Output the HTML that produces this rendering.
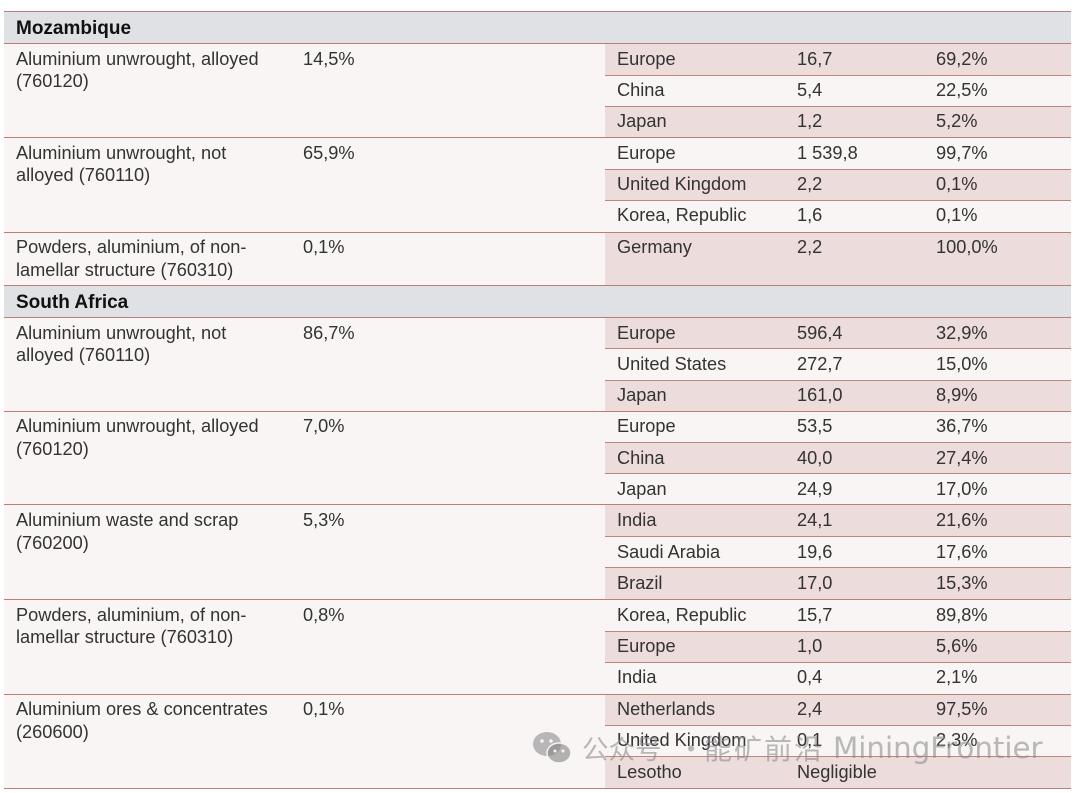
<!DOCTYPE html>
<html><head><meta charset="utf-8">
<style>
*{margin:0;padding:0;box-sizing:border-box}
html,body{width:1080px;height:793px;background:#fff;overflow:hidden}
body{position:relative;font-family:"Liberation Sans",Arial,sans-serif}
.bg{position:absolute;left:4px;width:1067px;background:#f9f5f4}
.hd{position:absolute;left:4px;width:1067px;background:#e0e1e4}
.sh{position:absolute;left:605px;width:466px;background:#ecdcdb}
.lf{position:absolute;left:4px;width:1067px;height:1px;background:#bb7d75}
.lr{position:absolute;left:605px;width:466px;height:1px;background:#c0847c}
.t{position:absolute;font-size:18.2px;line-height:22.5px;color:#333;white-space:nowrap;margin-top:-2px}
.h{position:absolute;left:16px;font-size:19px;font-weight:bold;color:#111;line-height:22px;white-space:nowrap}
.wm{position:absolute;top:729px;font-family:"Noto Sans CJK SC","DejaVu Sans",sans-serif;font-size:28px;line-height:38px;color:rgba(140,140,140,0.6);white-space:nowrap}
.wl{position:absolute;top:729px;font-family:"DejaVu Sans",sans-serif;font-size:29.3px;line-height:38px;color:rgba(140,140,140,0.6);white-space:nowrap}
</style></head><body>

<!-- backgrounds -->
<div class="hd" style="top:12px;height:31px"></div>
<div class="bg" style="top:43px;height:242px"></div>
<div class="hd" style="top:285px;height:32px"></div>
<div class="bg" style="top:317px;height:471px"></div>

<!-- shaded right rows -->
<div class="sh" style="top:43px;height:32px"></div>
<div class="sh" style="top:106px;height:31px"></div>
<div class="sh" style="top:169px;height:31px"></div>
<div class="sh" style="top:232px;height:53px"></div>
<div class="sh" style="top:317px;height:31px"></div>
<div class="sh" style="top:380px;height:31px"></div>
<div class="sh" style="top:442px;height:31px"></div>
<div class="sh" style="top:504px;height:32px"></div>
<div class="sh" style="top:567px;height:32px"></div>
<div class="sh" style="top:631px;height:31px"></div>
<div class="sh" style="top:694px;height:31px"></div>
<div class="sh" style="top:756px;height:32px"></div>

<!-- full lines -->
<div class="lf" style="top:11px"></div>
<div class="lf" style="top:43px"></div>
<div class="lf" style="top:137px"></div>
<div class="lf" style="top:232px"></div>
<div class="lf" style="top:285px"></div>
<div class="lf" style="top:317px"></div>
<div class="lf" style="top:411px"></div>
<div class="lf" style="top:504px"></div>
<div class="lf" style="top:599px"></div>
<div class="lf" style="top:694px"></div>
<div class="lf" style="top:788px"></div>

<!-- right-only lines -->
<div class="lr" style="top:75px"></div>
<div class="lr" style="top:106px"></div>
<div class="lr" style="top:169px"></div>
<div class="lr" style="top:200px"></div>
<div class="lr" style="top:348px"></div>
<div class="lr" style="top:380px"></div>
<div class="lr" style="top:442px"></div>
<div class="lr" style="top:473px"></div>
<div class="lr" style="top:536px"></div>
<div class="lr" style="top:567px"></div>
<div class="lr" style="top:631px"></div>
<div class="lr" style="top:662px"></div>
<div class="lr" style="top:725px"></div>
<div class="lr" style="top:756px"></div>

<!-- headers -->
<div class="h" style="top:18px">Mozambique</div>
<div class="h" style="top:292px">South Africa</div>

<!-- Mozambique group 1 -->
<div class="t" style="left:16px;top:49.5px">Aluminium unwrought, alloyed<br>(760120)</div>
<div class="t" style="left:303px;top:49.5px">14,5%</div>
<div class="t" style="left:617px;top:49.5px">Europe</div><div class="t" style="left:797px;top:49.5px">16,7</div><div class="t" style="left:936px;top:49.5px">69,2%</div>
<div class="t" style="left:617px;top:81px">China</div><div class="t" style="left:797px;top:81px">5,4</div><div class="t" style="left:936px;top:81px">22,5%</div>
<div class="t" style="left:617px;top:112px">Japan</div><div class="t" style="left:797px;top:112px">1,2</div><div class="t" style="left:936px;top:112px">5,2%</div>

<!-- Mozambique group 2 -->
<div class="t" style="left:16px;top:143.5px">Aluminium unwrought, not<br>alloyed (760110)</div>
<div class="t" style="left:303px;top:143.5px">65,9%</div>
<div class="t" style="left:617px;top:143.5px">Europe</div><div class="t" style="left:797px;top:143.5px">1 539,8</div><div class="t" style="left:936px;top:143.5px">99,7%</div>
<div class="t" style="left:617px;top:175px">United Kingdom</div><div class="t" style="left:797px;top:175px">2,2</div><div class="t" style="left:936px;top:175px">0,1%</div>
<div class="t" style="left:617px;top:206px">Korea, Republic</div><div class="t" style="left:797px;top:206px">1,6</div><div class="t" style="left:936px;top:206px">0,1%</div>

<!-- Mozambique group 3 -->
<div class="t" style="left:16px;top:238px">Powders, aluminium, of non-<br>lamellar structure (760310)</div>
<div class="t" style="left:303px;top:238px">0,1%</div>
<div class="t" style="left:617px;top:238px">Germany</div><div class="t" style="left:797px;top:238px">2,2</div><div class="t" style="left:936px;top:238px">100,0%</div>

<!-- SA group 1 -->
<div class="t" style="left:16px;top:323.5px">Aluminium unwrought, not<br>alloyed (760110)</div>
<div class="t" style="left:303px;top:323.5px">86,7%</div>
<div class="t" style="left:617px;top:323.5px">Europe</div><div class="t" style="left:797px;top:323.5px">596,4</div><div class="t" style="left:936px;top:323.5px">32,9%</div>
<div class="t" style="left:617px;top:354.5px">United States</div><div class="t" style="left:797px;top:354.5px">272,7</div><div class="t" style="left:936px;top:354.5px">15,0%</div>
<div class="t" style="left:617px;top:386px">Japan</div><div class="t" style="left:797px;top:386px">161,0</div><div class="t" style="left:936px;top:386px">8,9%</div>

<!-- SA group 2 -->
<div class="t" style="left:16px;top:417px">Aluminium unwrought, alloyed<br>(760120)</div>
<div class="t" style="left:303px;top:417px">7,0%</div>
<div class="t" style="left:617px;top:417px">Europe</div><div class="t" style="left:797px;top:417px">53,5</div><div class="t" style="left:936px;top:417px">36,7%</div>
<div class="t" style="left:617px;top:448.5px">China</div><div class="t" style="left:797px;top:448.5px">40,0</div><div class="t" style="left:936px;top:448.5px">27,4%</div>
<div class="t" style="left:617px;top:479.5px">Japan</div><div class="t" style="left:797px;top:479.5px">24,9</div><div class="t" style="left:936px;top:479.5px">17,0%</div>

<!-- SA group 3 -->
<div class="t" style="left:16px;top:511px">Aluminium waste and scrap<br>(760200)</div>
<div class="t" style="left:303px;top:511px">5,3%</div>
<div class="t" style="left:617px;top:511px">India</div><div class="t" style="left:797px;top:511px">24,1</div><div class="t" style="left:936px;top:511px">21,6%</div>
<div class="t" style="left:617px;top:542.5px">Saudi Arabia</div><div class="t" style="left:797px;top:542.5px">19,6</div><div class="t" style="left:936px;top:542.5px">17,6%</div>
<div class="t" style="left:617px;top:573.5px">Brazil</div><div class="t" style="left:797px;top:573.5px">17,0</div><div class="t" style="left:936px;top:573.5px">15,3%</div>

<!-- SA group 4 -->
<div class="t" style="left:16px;top:605.5px">Powders, aluminium, of non-<br>lamellar structure (760310)</div>
<div class="t" style="left:303px;top:605.5px">0,8%</div>
<div class="t" style="left:617px;top:605.5px">Korea, Republic</div><div class="t" style="left:797px;top:605.5px">15,7</div><div class="t" style="left:936px;top:605.5px">89,8%</div>
<div class="t" style="left:617px;top:637px">Europe</div><div class="t" style="left:797px;top:637px">1,0</div><div class="t" style="left:936px;top:637px">5,6%</div>
<div class="t" style="left:617px;top:668px">India</div><div class="t" style="left:797px;top:668px">0,4</div><div class="t" style="left:936px;top:668px">2,1%</div>

<!-- SA group 5 -->
<div class="t" style="left:16px;top:700px">Aluminium ores &amp; concentrates<br>(260600)</div>
<div class="t" style="left:303px;top:700px">0,1%</div>
<div class="t" style="left:617px;top:700px">Netherlands</div><div class="t" style="left:797px;top:700px">2,4</div><div class="t" style="left:936px;top:700px">97,5%</div>
<div class="t" style="left:617px;top:731px">United Kingdom</div><div class="t" style="left:797px;top:731px">0,1</div><div class="t" style="left:936px;top:731px">2,3%</div>
<div class="t" style="left:617px;top:762.5px">Lesotho</div><div class="t" style="left:797px;top:762.5px">Negligible</div>

<!-- watermark -->
<svg style="position:absolute;left:531px;top:729px" width="44" height="38" viewBox="0 0 44 38">
  <ellipse cx="16" cy="15" rx="14" ry="12" fill="rgba(140,140,140,0.6)"/>
  <ellipse cx="28" cy="24" rx="12" ry="10" fill="rgba(140,140,140,0.65)" stroke="#f9f5f4" stroke-width="1.5"/>
  <circle cx="11" cy="12" r="1.8" fill="#f9f5f4"/><circle cx="20" cy="12" r="1.8" fill="#f9f5f4"/>
  <circle cx="24" cy="22" r="1.5" fill="#f9f5f4"/><circle cx="32" cy="22" r="1.5" fill="#f9f5f4"/>
</svg>
<div class="wm" style="left:582px;font-size:26.5px">公众号</div>
<div class="wm" style="left:677px">·</div>
<div class="wm" style="left:704px;letter-spacing:2px">能矿前沿</div>
<div class="wl" style="left:833px">MiningFrontier</div>

</body></html>
